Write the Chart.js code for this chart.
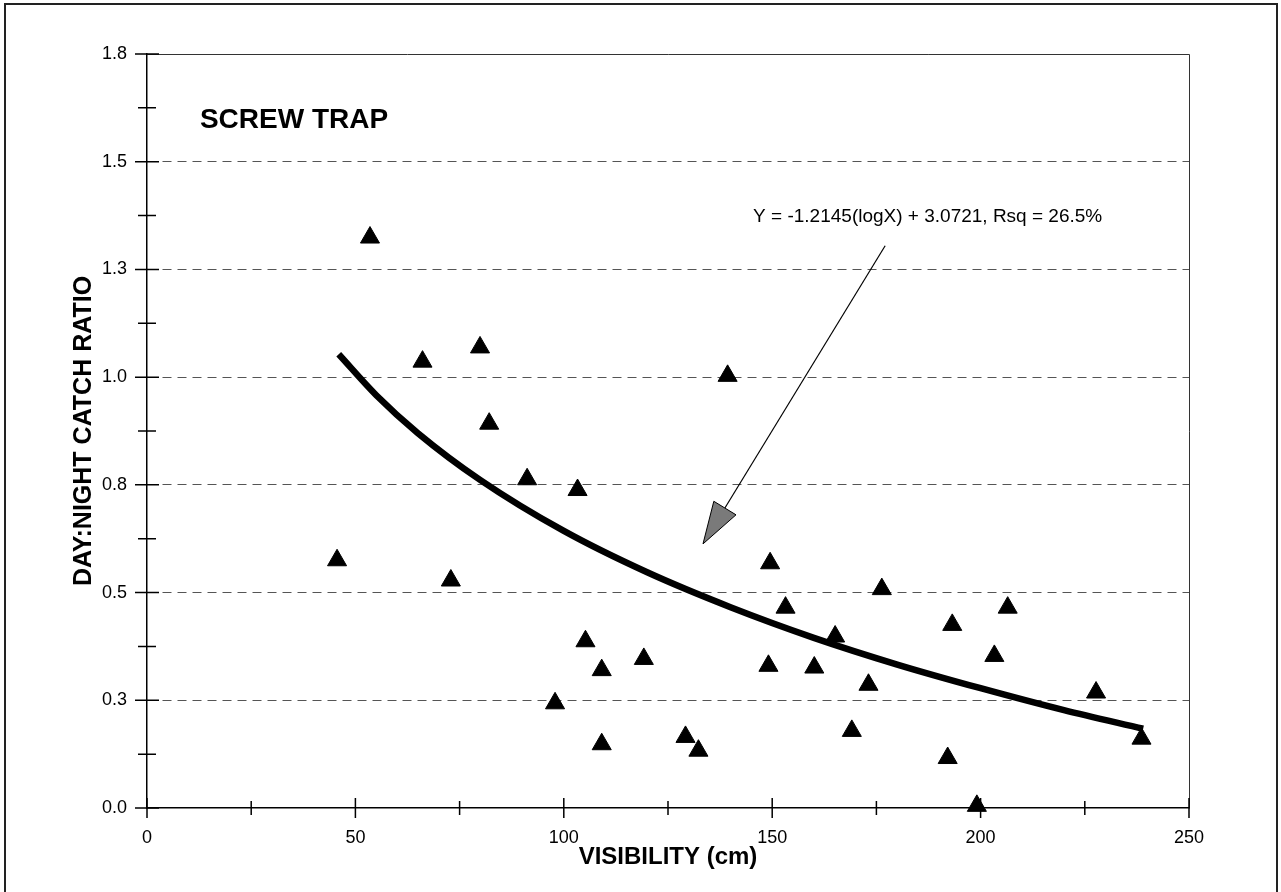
<!DOCTYPE html>
<html>
<head>
<meta charset="utf-8">
<title>Screw trap day:night catch ratio</title>
<script src="https://cdn.jsdelivr.net/npm/chart.js@4.4.1/dist/chart.umd.min.js"></script>
<style>
  html, body { margin: 0; padding: 0; background: #fff; }
  #wrap { width: 1281px; height: 892px; }
</style>
</head>
<body>
<div id="wrap"><canvas id="chart" width="1281" height="892"></canvas></div>
<script>
// observed points (visibility cm, day:night ratio)
const visibility = [45.6, 53.5, 66.1, 72.9, 79.9, 82.1, 91.2, 97.9, 103.3, 105.2, 109.1, 109.1, 119.2, 129.2, 132.3, 139.3,
    149.1, 149.5, 153.2, 160.1, 165.1, 169.1, 173.1, 176.3, 192.1, 193.2, 199.1, 203.3, 206.5, 227.7, 238.6];
const catchRatio = [0.575, 1.324, 1.036, 0.528, 1.069, 0.892, 0.763, 0.243, 0.738, 0.387, 0.320, 0.148, 0.346, 0.165, 0.133, 1.003,
    0.330, 0.568, 0.465, 0.326, 0.398, 0.179, 0.286, 0.508, 0.116, 0.425, 0.005, 0.353, 0.465, 0.268, 0.161];

// fitted curve
const trendX = [46, 55, 65, 80, 100, 120, 140, 160, 180, 200, 220, 239];
const trendY = [1.053, 0.958, 0.870, 0.761, 0.643, 0.547, 0.466, 0.395, 0.333, 0.278, 0.227, 0.184];

const yTickLabels = ['0.0', '0.3', '0.5', '0.8', '1.0', '1.3', '1.5', '1.8'];
const xTickLabels = ['0', '50', '100', '150', '200', '250'];

const equationText = 'Y = -1.2145(logX) + 3.0721, Rsq = 26.5%';
const panelText = 'SCREW TRAP';

Chart.defaults.font.family = '"Liberation Sans", Arial, sans-serif';
Chart.defaults.color = '#000';

const FONT = '"Liberation Sans", Arial, sans-serif';

const decor = {
    id: 'decor',
    beforeDraw(chart) {
        const ctx = chart.ctx;
        ctx.save();
        ctx.strokeStyle = '#222';
        ctx.lineWidth = 2;
        ctx.beginPath();
        ctx.moveTo(5, chart.height);
        ctx.lineTo(5, 4);
        ctx.lineTo(1277, 4);
        ctx.lineTo(1277, chart.height);
        ctx.stroke();
        ctx.restore();
    },
    afterDraw(chart) {
        const ctx = chart.ctx;
        const { x, y } = chart.scales;
        const { left, right, top, bottom } = chart.chartArea;

        ctx.save();
        // plot frame top / right
        ctx.strokeStyle = '#333';
        ctx.lineWidth = 1;
        ctx.beginPath();
        ctx.moveTo(left, top + 0.5);
        ctx.lineTo(right + 0.5, top + 0.5);
        ctx.lineTo(right + 0.5, bottom);
        ctx.stroke();

        // crossing tick marks
        ctx.strokeStyle = '#000';
        ctx.lineWidth = 1.5;
        ctx.beginPath();
        for (let i = 0; i <= 14; i++) {
            const py = y.getPixelForValue(i * 0.125);
            const h = i % 2 === 0 ? 12 : 9;
            ctx.moveTo(left - h, py);
            ctx.lineTo(left + h, py);
        }
        for (let i = 0; i <= 10; i++) {
            const px = x.getPixelForValue(i * 25);
            const h = i % 2 === 0 ? 10 : 7;
            ctx.moveTo(px, bottom - h);
            ctx.lineTo(px, bottom + h);
        }
        ctx.stroke();

        // panel label
        ctx.fillStyle = '#000';
        ctx.font = 'bold 28px ' + FONT;
        ctx.textAlign = 'left';
        ctx.textBaseline = 'alphabetic';
        ctx.fillText(panelText, x.getPixelForValue(12.7), y.getPixelForValue(1.578));

        // equation
        ctx.font = '19px ' + FONT;
        ctx.textAlign = 'center';
        ctx.textBaseline = 'middle';
        ctx.fillText(equationText, x.getPixelForValue(187.3), y.getPixelForValue(1.372));

        // arrow to the curve
        const tx = x.getPixelForValue(177.1), ty = y.getPixelForValue(1.305);
        const hx = x.getPixelForValue(133.4), hy = y.getPixelForValue(0.613);
        const len = Math.hypot(hx - tx, hy - ty);
        const ux = (hx - tx) / len, uy = (hy - ty) / len;
        const bx = hx - ux * 42, by = hy - uy * 42;
        ctx.lineWidth = 1.2;
        ctx.beginPath();
        ctx.moveTo(tx, ty);
        ctx.lineTo(bx, by);
        ctx.stroke();
        ctx.beginPath();
        ctx.moveTo(hx, hy);
        ctx.lineTo(bx - uy * 13, by + ux * 13);
        ctx.lineTo(bx + uy * 13, by - ux * 13);
        ctx.closePath();
        ctx.fillStyle = '#7a7a7a';
        ctx.fill();
        ctx.lineWidth = 1;
        ctx.stroke();
        ctx.restore();
    }
};

new Chart(document.getElementById('chart'), {
    type: 'scatter',
    data: {
        datasets: [{
            label: 'Day:night ratio',
            data: visibility.map((v, i) => ({ x: v, y: catchRatio[i] })),
            pointStyle: 'triangle',
            pointRadius: 11,
            backgroundColor: '#000',
            borderColor: '#000',
            borderWidth: 1,
            clip: false
        }, {
            label: 'Log fit',
            data: trendX.map((v, i) => ({ x: v, y: trendY[i] })),
            showLine: true,
            pointRadius: 0,
            borderColor: '#000',
            borderWidth: 6.5,
            cubicInterpolationMode: 'monotone'
        }]
    },
    options: {
        responsive: false,
        animation: false,
        devicePixelRatio: 1,
        layout: { padding: { top: 54, right: 92, left: 0, bottom: 0 } },
        plugins: {
            legend: { display: false },
            tooltip: { enabled: false }
        },
        scales: {
            x: {
                type: 'linear',
                min: 0,
                max: 250,
                afterFit: s => { s.height = 84; },
                ticks: {
                    stepSize: 50,
                    padding: 19,
                    font: { size: 18 },
                    color: '#000',
                    maxRotation: 0,
                    callback: (v, i) => xTickLabels[i]
                },
                grid: { display: false, drawTicks: false },
                border: { display: true, color: '#000', width: 1.5 },
                title: {
                    display: true,
                    text: 'VISIBILITY (cm)',
                    font: { size: 24, weight: 'bold' },
                    color: '#000',
                    padding: { top: 0, bottom: 20 }
                }
            },
            y: {
                min: 0,
                max: 1.75,
                afterFit: s => { s.width = 147; },
                ticks: {
                    stepSize: 0.25,
                    padding: 20,
                    font: { size: 18 },
                    color: '#000',
                    callback: (v, i) => yTickLabels[i]
                },
                grid: {
                    drawTicks: false,
                    lineWidth: 1,
                    color: c => (c.tick && (c.tick.value < 0.01 || c.tick.value > 1.7)) ? 'rgba(0,0,0,0)' : '#555'
                },
                border: { display: true, color: '#000', width: 1.5, dash: [9, 6] },
                title: {
                    display: true,
                    text: 'DAY:NIGHT CATCH RATIO',
                    font: { size: 25, weight: 'bold' },
                    color: '#000',
                    padding: { top: 69, bottom: 0 }
                }
            }
        }
    },
    plugins: [decor]
});
</script>
</body>
</html>
